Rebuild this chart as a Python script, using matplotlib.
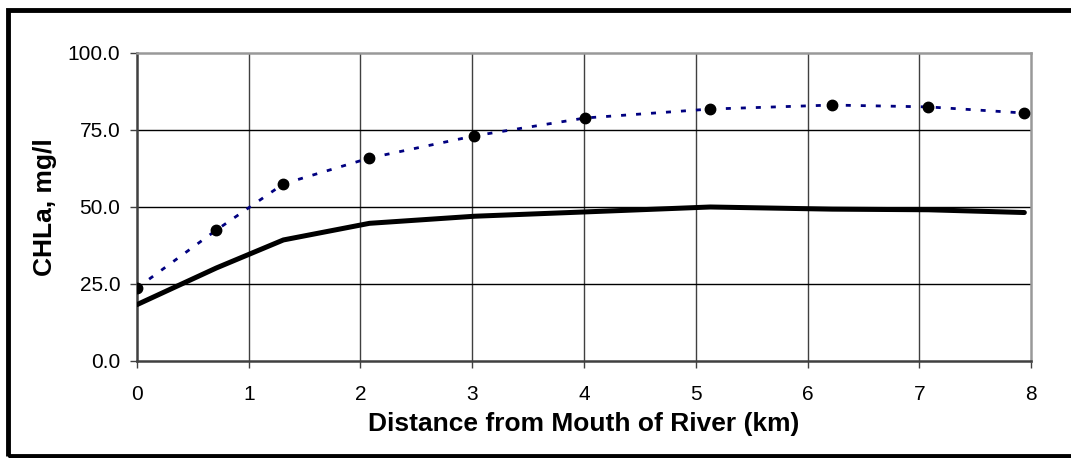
import matplotlib.pyplot as plt
from matplotlib.patches import Rectangle

plt.rcParams['font.family'] = ['Liberation Sans', 'DejaVu Sans']

# distance from river mouth (km)
distance = [0, 0.71, 1.31, 2.08, 3.02, 4.01, 5.13, 6.22, 7.08, 7.94]
# observed CHLa (dots) and dashed model line through them
chla_obs = [23.7, 42.5, 57.5, 65.9, 73.1, 78.9, 81.8, 83.1, 82.5, 80.5]
# solid model line
chla_model = [18.3, 30.2, 39.3, 44.7, 47.0, 48.4, 50.0, 49.3, 49.1, 48.2]

x_ticks = [0, 1, 2, 3, 4, 5, 6, 7, 8]
y_ticks = [0, 25, 50, 75, 100]

fig = plt.figure(figsize=(10.71, 4.58), dpi=100)
ax = fig.add_axes([0.1279, 0.2118, 0.8348, 0.6725])

ax.plot(distance, chla_obs, color='#000080', lw=2, linestyle=(0, (1.8, 3.6)), zorder=3)
ax.plot(distance, chla_obs, 'o', color='black', ms=7.5, zorder=4)
ax.plot(distance, chla_model, color='black', lw=3.6, solid_capstyle='round', zorder=3)

ax.set_xlim(0, 8)
ax.set_ylim(0, 100)
ax.set_xticks(x_ticks)
ax.set_yticks(y_ticks)
ax.set_yticklabels([f'{v:.1f}' for v in y_ticks])
ax.tick_params(labelsize=15, direction='out', length=5, width=1, color='#404040')
ax.tick_params(axis='x', pad=12)
ax.tick_params(axis='y', pad=7)

for v in x_ticks[1:-1]:
    ax.axvline(v, color='#404040', lw=1, zorder=1)
for v in y_ticks[1:-1]:
    ax.axhline(v, color='black', lw=1, zorder=1)

for s in ['left', 'bottom']:
    ax.spines[s].set_color('#404040')
    ax.spines[s].set_linewidth(1.8)
for s in ['top', 'right']:
    ax.spines[s].set_color('#999999')
    ax.spines[s].set_linewidth(1.8)

ax.set_xlabel('Distance from Mouth of River (km)', fontsize=19, fontweight='bold', labelpad=6)
ax.set_ylabel('CHLa, mg/l', fontsize=19, fontweight='bold', labelpad=8)

fig.patches.append(Rectangle((0.0079, 0.0044), 1.1, 0.9727, transform=fig.transFigure,
                             fill=False, edgecolor='black', lw=3.5))

fig.savefig('out.png', dpi=100)
